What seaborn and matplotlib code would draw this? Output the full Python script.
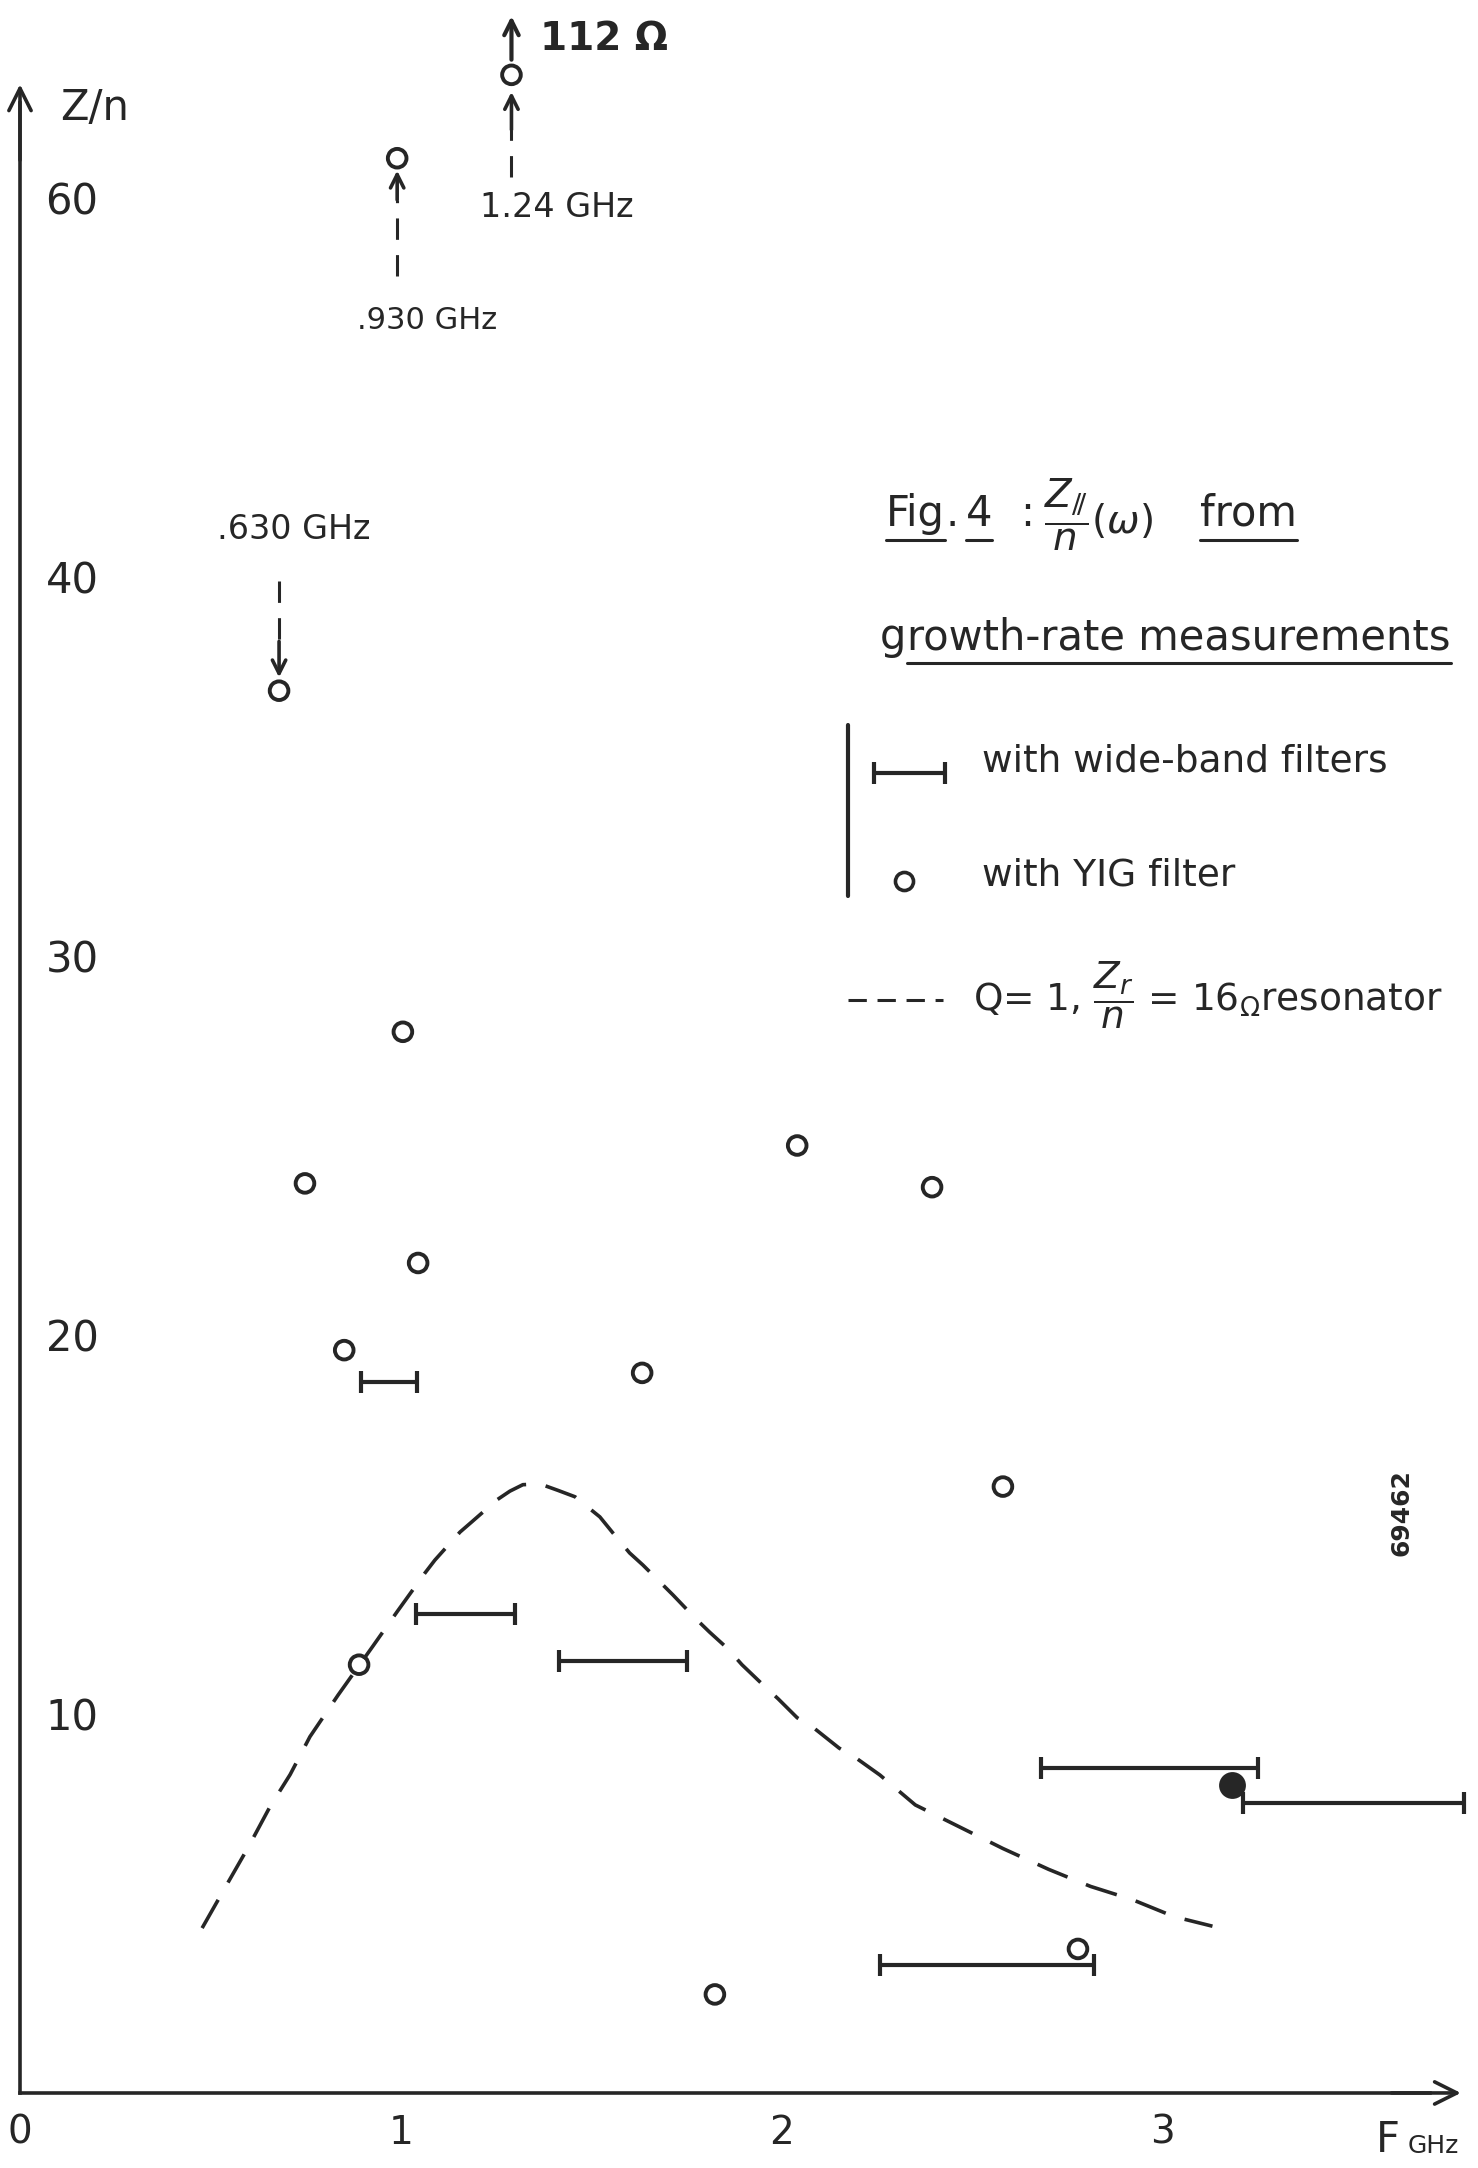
import numpy as np
import matplotlib
matplotlib.use("Agg")
import matplotlib.pyplot as plt
from matplotlib.ticker import FixedLocator
import seaborn as sns

# wide-band filter measurements: frequency span (GHz) and Z/n (ohm)
wb_f_lo = [0.895, 1.04, 1.415, 2.257, 2.68, 3.21]
wb_f_hi = [1.042, 1.30, 1.75, 2.819, 3.25, 3.79]
wb_z = [18.75, 12.64, 11.4, 3.37, 8.57, 7.65]

# YIG filter measurements (the 1.24 GHz one is off scale: 112 ohm)
yig_f = [0.68, 0.99, 1.29, 0.748, 1.005, 1.045, 0.851, 0.89, 1.633,
         2.04, 2.394, 2.58, 1.824, 2.777]
yig_z = [37.0, 62.1, 112.0, 24.0, 28.0, 21.9, 19.6, 11.3, 19.0,
         25.0, 23.9, 16.0, 2.6, 3.8]

# filled point
dot_f = [3.18]
dot_z = [8.13]

# Q = 1, Zr/n = 16 ohm resonator (dashed curve)
res_f = [0.478, 0.543, 0.600, 0.656, 0.709, 0.761, 0.835, 0.927, 0.990, 1.063,
         1.089, 1.155, 1.186, 1.252, 1.286, 1.320, 1.365, 1.412, 1.457, 1.522,
         1.556, 1.600, 1.635, 1.680, 1.714, 1.772, 1.810, 1.856, 1.895, 1.947,
         1.990, 2.040, 2.080, 2.150, 2.190, 2.257, 2.350, 2.470, 2.580, 2.700,
         2.810, 2.920, 3.030, 3.130]
res_z = [4.35, 5.5, 6.5, 7.55, 8.4, 9.4, 10.5, 11.8, 12.7, 13.72,
         14.06, 14.8, 15.07, 15.65, 15.88, 16.05, 16.07, 15.9, 15.73, 15.2,
         14.78, 14.25, 13.93, 13.48, 13.14, 12.53, 12.16, 11.74, 11.3, 10.8,
         10.4, 9.9, 9.66, 9.1, 8.87, 8.39, 7.6, 7.0, 6.45, 5.9,
         5.45, 5.1, 4.65, 4.4]

xtick_vals = [0, 1, 2, 3]
ytick_vals = [10, 20, 30, 40, 60]

INK = "#262626"
W, H = 1478, 2168
TOP_MARK = 66.5   # off-scale points are drawn at the top of the axis
BREAK = 40        # above 40 the hand-drawn axis is compressed by 2


def fwd(y):
    y = np.asarray(y, dtype=float)
    return np.where(y <= BREAK, y, BREAK + (y - BREAK) / 2)


def inv(d):
    d = np.asarray(d, dtype=float)
    return np.where(d <= BREAK, d, BREAK + (d - BREAK) * 2)


sns.set_style("white")
plt.rcParams["font.family"] = ["DejaVu Sans"]
plt.rcParams["mathtext.fontset"] = "dejavusans"

fig = plt.figure(figsize=(W / 100, H / 100), dpi=100)
ax = fig.add_axes([0, 0, 1, 1])
ax.set_yscale("function", functions=(fwd, inv))

# resonator curve
sns.lineplot(x=res_f, y=res_z, sort=False, estimator=None, color=INK,
             linewidth=2.6, linestyle=(0, (9, 5.5)), ax=ax)

# wide-band filter spans
lo = np.array(wb_f_lo)
hi = np.array(wb_f_hi)
ax.errorbar(x=(lo + hi) / 2, y=wb_z, xerr=(hi - lo) / 2, fmt="none",
            ecolor=INK, elinewidth=3, capsize=8, capthick=3)

# YIG points
sns.scatterplot(x=yig_f, y=np.minimum(yig_z, TOP_MARK), marker="o", s=180,
                facecolors="none", edgecolor=INK, linewidth=2.8, ax=ax, zorder=3)
sns.scatterplot(x=dot_f, y=dot_z, marker="o", s=320, color=INK,
                edgecolor=INK, ax=ax, zorder=3)

ax.set_xlim(-0.0525, 3.827)
ax.set_ylim(-1.98, 70.45)
ax.set_xlabel("")
ax.set_ylabel("")

# axes drawn through the origin with arrow heads
for s in ["top", "right"]:
    ax.spines[s].set_visible(False)
for s in ["left", "bottom"]:
    ax.spines[s].set_position(("data", 0))
    ax.spines[s].set_linewidth(2.6)
    ax.spines[s].set_color(INK)
ax.spines["left"].set_bounds(0, 65.0)
ax.spines["bottom"].set_bounds(0, 3.70)
arrow_kw = dict(arrowstyle="->", lw=2.6, color=INK, mutation_scale=40,
                shrinkA=0, shrinkB=0)
ax.annotate("", xy=(0, 66.0), xytext=(0, 62.0), arrowprops=arrow_kw)
ax.annotate("", xy=(3.782, 0), xytext=(3.60, 0), arrowprops=arrow_kw)

ax.set_xticks(xtick_vals)
ax.set_xticklabels([str(v) for v in xtick_vals])
ax.xaxis.get_major_ticks()[0].tick1line.set_visible(False)
ax.set_yticks(ytick_vals)
ax.set_yticklabels([str(v) for v in ytick_vals])
minor = [v for v in range(2, 40, 2) if v % 10] + [44, 48, 52, 56]
ax.yaxis.set_minor_locator(FixedLocator(minor))
ax.tick_params(axis="x", which="major", direction="in", length=11, width=2.4,
               pad=15, labelsize=28, color=INK, labelcolor=INK)
ax.tick_params(axis="x", which="minor", length=0)
ax.tick_params(axis="y", which="major", direction="inout", length=13, width=2.4,
               pad=-63, labelsize=30, color=INK, labelcolor=INK)
ax.tick_params(axis="y", which="minor", direction="in", length=6, width=2,
               color=INK)

ax.text(0.197, 64.75, "Z/n", fontsize=30, ha="center", va="center", color=INK)
ax.text(3.59, -1.25, "F", fontsize=30, ha="center", va="center", color=INK)
ax.text(3.71, -1.4, "GHz", fontsize=18, ha="center", va="center", color=INK)


# off-scale YIG points: dashed pointer with head
def pointer(x, y_from, y_head, y_tip):
    ax.plot([x, x], [y_from, y_head], color=INK, lw=2.2,
            linestyle=(0, (7, 5)))
    ax.annotate("", xy=(x, y_tip), xytext=(x, y_head),
                arrowprops=dict(arrowstyle="->", lw=2.6, color=INK,
                                mutation_scale=24, shrinkA=0, shrinkB=0))


ax.text(0.517, 42.5, ".630 GHz", fontsize=24, ha="left", va="center", color=INK)
pointer(yig_f[0], 39.9, 38.3, 37.35)
ax.text(0.885, 53.56, ".930 GHz", fontsize=22, ha="left", va="center", color=INK)
pointer(yig_f[1], 55.9, 59.9, 61.45)
ax.text(1.207, 59.52, "1.24 GHz", fontsize=24, ha="left", va="center", color=INK)
pointer(yig_f[2], 61.1, 63.6, 65.6)
ax.annotate("", xy=(yig_f[2], 69.6), xytext=(yig_f[2], 67.3),
            arrowprops=dict(arrowstyle="->", lw=3, color=INK,
                            mutation_scale=26, shrinkA=0, shrinkB=0))
ax.text(1.365, 68.4, f"{yig_z[2]:.0f} Ω", fontsize=28, fontweight="semibold",
        ha="left", va="center", color=INK)

ax.text(1401 / W, 1 - 1513 / H, "69462", transform=ax.transAxes, rotation=90,
        fontsize=18, fontweight="bold", ha="center", va="center", color=INK)

# hand-written key, placed in figure pixels
renderer = fig.canvas.get_renderer()


def fx(px):
    return px / W


def fy(py):
    return 1 - py / H


def put(px, py, s, underline=False, fs=27):
    t = ax.text(fx(px), fy(py), s, transform=ax.transAxes, ha="left",
                va="baseline", fontsize=fs, color=INK)
    bb = t.get_window_extent(renderer=renderer)
    if underline:
        ax.plot([bb.x0 / W, bb.x1 / W], [fy(py + 14)] * 2, transform=ax.transAxes,
                color=INK, lw=2.2, solid_capstyle="round")
    return bb


put(886, 526, "Fig", True, 30)
put(946, 526, ".", False, 30)
put(966, 526, "4", True, 30)
put(1020, 526, ":", False, 30)
put(1044, 534, r"$\dfrac{Z_{/\!/}}{n}(\omega)$", False, 28)
put(1200, 526, "from", True, 30)
g_box = put(880, 649, "g", False, 30)
put(g_box.x1 + 1, 649, "rowth-rate measurements", True, 30)

ax.plot([fx(848)] * 2, [fy(725), fy(896)], transform=ax.transAxes,
        color=INK, lw=3)
ax.plot([fx(874), fx(945)], [fy(773)] * 2, "-", marker="|", ms=16, mew=3,
        lw=3, color=INK, transform=ax.transAxes)
put(982, 771, "with wide-band filters")
ax.plot([fx(904)], [fy(881)], marker="o", ms=13, mfc="none", mec=INK, mew=2.6,
        transform=ax.transAxes)
put(982, 885, "with YIG filter")
ax.plot([fx(848), fx(943)], [fy(1000)] * 2, color=INK, lw=2.2,
        linestyle=(0, (6, 3.5)), transform=ax.transAxes)
put(973, 1011, r"Q= 1, $\dfrac{Z_r}{n}$ = 16$_{\Omega}$resonator")

fig.savefig("out.png", dpi=100, facecolor="white")
